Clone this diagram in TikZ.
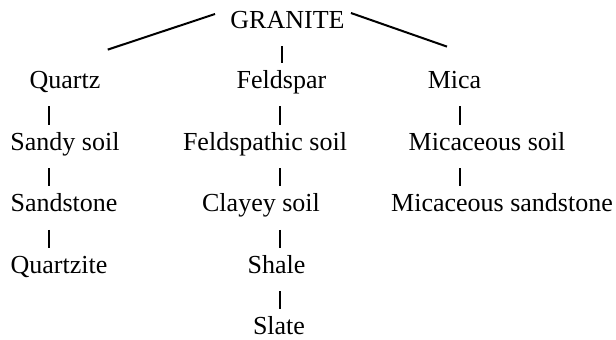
\documentclass[tikz,border=0pt]{standalone}
\usepackage{fontspec}
\setmainfont{Liberation Serif}
\begin{document}
\begin{tikzpicture}[x=0.5pt,y=-0.5pt,
  rock/.style={anchor=base,inner sep=0pt,text height=9pt,text depth=3pt,font=\fontsize{13}{15}\selectfont},
  tick/.style={line width=1pt,shorten <=6pt,shorten >=3.5pt},
  branch/.style={line width=1pt}]
\useasboundingbox (0,0) rectangle (616,339);
\node[rock] (granite) at (287.5,28) {GRANITE};
\node[rock] (quartz) at (65,88) {Quartz};
\node[rock] (feldspar) at (281.5,88) {Feldspar};
\node[rock] (mica) at (454.5,88) {Mica};
\node[rock] (sandy) at (65,150) {Sandy soil};
\node[rock] (sandstone) at (64,211.5) {Sandstone};
\node[rock] (quartzite) at (59,273) {Quartzite};
\node[rock] (fsoil) at (265,150) {Feldspathic soil};
\node[rock] (clayey) at (261,211.5) {Clayey soil};
\node[rock] (shale) at (276.5,273) {Shale};
\node[rock] (slate) at (279,334.5) {Slate};
\node[rock] (msoil) at (487,150) {Micaceous soil};
\node[rock] (msand) at (502,211.5) {Micaceous sandstone};
% columns of the short ticks
\coordinate (colg) at (282,0);
\coordinate (colq) at (49,0);
\coordinate (colf) at (280,0);
\coordinate (colm) at (460,0);
\draw[branch] ([xshift=-7.5pt,yshift=4pt]granite.west) -- ([xshift=3.5pt,yshift=10pt]quartz.north east);
\draw[branch] ([xshift=3pt,yshift=4.5pt]granite.east) -- ([xshift=-3.75pt,yshift=11.5pt]mica.north);
\draw[tick] (granite.south -| colg) -- (feldspar.north -| colg);
\draw[tick] (quartz.south -| colq) -- (sandy.north -| colq);
\draw[tick] (sandy.south -| colq) -- (sandstone.north -| colq);
\draw[tick] (sandstone.south -| colq) -- (quartzite.north -| colq);
\draw[tick] (feldspar.south -| colf) -- (fsoil.north -| colf);
\draw[tick] (fsoil.south -| colf) -- (clayey.north -| colf);
\draw[tick] (clayey.south -| colf) -- (shale.north -| colf);
\draw[tick] (shale.south -| colf) -- (slate.north -| colf);
\draw[tick] (mica.south -| colm) -- (msoil.north -| colm);
\draw[tick] (msoil.south -| colm) -- (msand.north -| colm);
\end{tikzpicture}
\end{document}
